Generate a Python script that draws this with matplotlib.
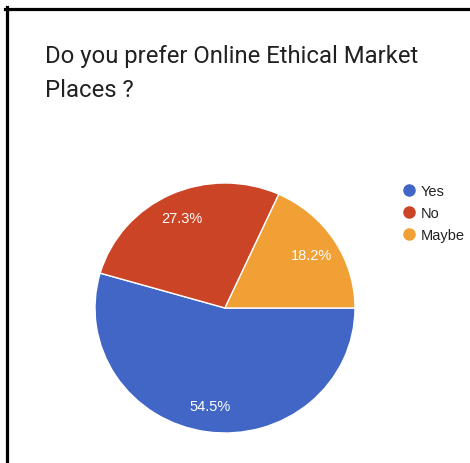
import matplotlib
matplotlib.use("Agg")
import matplotlib.pyplot as plt
from matplotlib.lines import Line2D

title = "Do you prefer Online Ethical Market\nPlaces ?"
categories = ["Yes", "No", "Maybe"]
values = [54.5, 27.3, 18.2]
colors = ["#4266C6", "#CB4426", "#F0A035"]

W, H = 470, 464
fig = plt.figure(figsize=(W / 100, H / 100), dpi=100)
fig.patch.set_facecolor("white")

# pie axes: centre (225, 309) px from top, rx 130, ry 125
cx, cy, rx, ry = 225, 309, 130, 125
ax = fig.add_axes([(cx - rx) / W, (H - cy - ry) / H, 2 * rx / W, 2 * ry / H])
wedges, texts, autotexts = ax.pie(
    values, colors=colors, startangle=0, counterclock=False,
    autopct="%1.1f%%", pctdistance=0.79,
    wedgeprops=dict(edgecolor="white", linewidth=1.0),
    textprops=dict(color="white", fontsize=10.5, family=["Liberation Sans", "DejaVu Sans"]),
)
ax.set_aspect("auto")
ax.set_xlim(-1, 1)
ax.set_ylim(-1, 1)
ax.axis("off")

# title
fig.text(45 / W, 1 - 45 / H, title, ha="left", va="top", fontsize=17.2,
         family=["Roboto", "DejaVu Sans"], color="#212121", linespacing=1.62)

# legend
handles = [Line2D([], [], marker="o", linestyle="none", markersize=8,
                  markerfacecolor=c, markeredgecolor=c) for c in colors]
leg = fig.legend(handles, categories, loc="upper left",
                 bbox_to_anchor=(402 / W, 1 - 185 / H), frameon=False,
                 prop=dict(family=["Liberation Sans", "DejaVu Sans"], size=10.5),
                 handlelength=1.0, handletextpad=0.3, labelspacing=0.55,
                 borderaxespad=0, borderpad=0)
for t in leg.get_texts():
    t.set_color("#222222")

# border (left and top lines of the screenshot frame)
fig.add_artist(Line2D([6.5 / W, 6.5 / W], [0, 1 - 8 / H], color="black",
                      linewidth=2.3, transform=fig.transFigure))
fig.add_artist(Line2D([5 / W, 1], [1 - 9.5 / H, 1 - 9.5 / H], color="black",
                      linewidth=2.3, transform=fig.transFigure))

fig.savefig("out.png", dpi=100, facecolor="white")
